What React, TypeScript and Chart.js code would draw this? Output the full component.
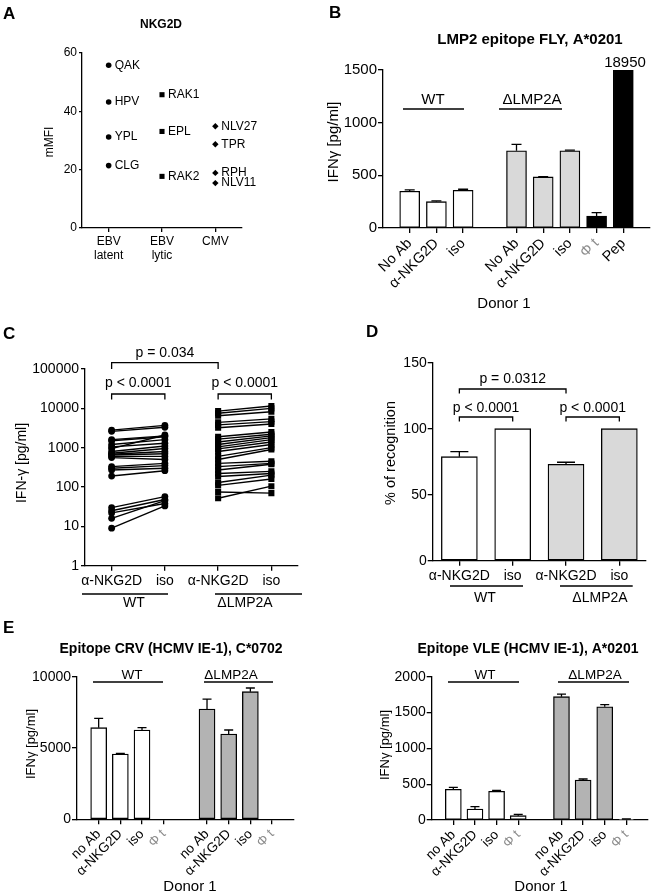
import React, { useEffect, useRef } from "react";
import { Chart, registerables } from "chart.js";
Chart.register(...registerables);

const FONT = "'Liberation Sans', Arial, Helvetica, sans-serif";

// ---------------- Panel A data ----------------
const A_CATEGORIES = ["EBV latent", "EBV lytic", "CMV"];
const A_LATENT_NAMES = ["QAK", "HPV", "YPL", "CLG"];
const A_LATENT_MFI = [55.8, 43.2, 31.2, 21.4];
const A_LYTIC_NAMES = ["RAK1", "EPL", "RAK2"];
const A_LYTIC_MFI = [45.7, 33.1, 17.7];
const A_CMV_NAMES = ["NLV27", "TPR", "RPH", "NLV11"];
const A_CMV_MFI = [34.9, 28.7, 18.9, 15.4];

// ---------------- Panel B data ----------------
const B_CATEGORIES = ["", "No Ab", "α-NKG2D", "iso", "", "No Ab", "α-NKG2D", "iso", "Φ t", "Pep", ""];
const B_GROUPS = ["", "WT", "WT", "WT", "", "ΔLMP2A", "ΔLMP2A", "ΔLMP2A", "ctrl", "ctrl", ""];
const B_IFNG = [null, 349, 250, 358, null, 733, 485, 733, 114, 18950, null];
const B_SEM = [null, 12, 7, 10, null, 60, 3, 6, 32, null, null];

// ---------------- Panel C data ----------------
const C_CATEGORIES = ["α-NKG2D", "iso", "α-NKG2D", "iso"];
const C_TICKS = [1, 10, 100, 1000, 10000, 100000];
const C_WT_NKG2D = [2800, 2600, 1600, 1500, 1200, 1050, 950, 800, 720, 680, 650, 600, 560, 330, 300, 270, 190, 30, 25, 22, 16, 9];
const C_WT_ISO = [3700, 3300, 2000, 1900, 1600, 1300, 2100, 1100, 950, 800, 700, 600, 500, 400, 350, 300, 260, 57, 48, 38, 45, 33];
const C_D_NKG2D = [8500, 7500, 6500, 4400, 3800, 3200, 1900, 1650, 1400, 1200, 1050, 930, 800, 600, 500, 400, 330, 270, 220, 185, 130, 110, 75, 52];
const C_D_ISO = [11500, 10000, 8200, 5400, 4600, 4000, 2500, 2200, 2000, 1800, 1600, 1400, 1200, 1000, 900, 450, 400, 380, 250, 220, 200, 160, 70, 105];

// ---------------- Panel D data ----------------
const D_CATEGORIES = ["α-NKG2D", "iso", "α-NKG2D", "iso"];
const D_GROUPS = ["WT", "WT", "ΔLMP2A", "ΔLMP2A"];
const D_RECOGNITION = [78.8, 100, 73, 100];
const D_SEM = [3.8, 0, 1.6, 0];

// ---------------- Panel E data ----------------
const E_CATEGORIES = ["", "no Ab", "α-NKG2D", "iso", "Φ t", "", "no Ab", "α-NKG2D", "iso", "Φ t", ""];
const E_GROUPS = ["", "WT", "WT", "WT", "WT", "", "ΔLMP2A", "ΔLMP2A", "ΔLMP2A", "ΔLMP2A", ""];
const E_CRV_IFNG = [null, 6425, 4580, 6262, 0, null, 7734, 5981, 8949, 0, null];
const E_CRV_SEM = [null, 655, 46, 163, 0, null, 700, 281, 257, 0, null];
const E_VLE_IFNG = [null, 428, 153, 400, 60, null, 1721, 558, 1581, 9, null];
const E_VLE_SEM = [null, 28, 33, 14, 19, null, 37, 14, 28, 5, null];

// ---------------- styles ----------------
const FILL_B: Record<string, string> = { WT: "#ffffff", "ΔLMP2A": "#d9d9d9", ctrl: "#000000", "": "#fff" };
const FILL_E: Record<string, string> = { WT: "#ffffff", "ΔLMP2A": "#b3b3b3", "": "#fff" };

type Box = { x: number; y: number; w: number; h: number };
type Area = { l: number; t: number; r: number; b: number };
type Txt = { s: string; x: number; y: number; size: number; bold?: boolean; rot?: boolean; color?: string; align?: CanvasTextAlign };
type Ln = [number, number, number, number];
type Br = { from: number; to: number; y: number; leg: number; label: string; ly: number; size: number };

const plain = (v: any) => String(v);

function frame(box: Box, area: Area) {
  return {
    padding: { left: 0, top: area.t - box.y, right: box.x + box.w - area.r, bottom: 0 },
    yFit: (s: any) => {
      s.width = area.l - box.x;
      s.paddingTop = 0;
      s.paddingBottom = 0;
    },
    xFit: (s: any) => {
      s.height = box.y + box.h - area.b;
      s.paddingLeft = 0;
      s.paddingRight = 0;
    },
  };
}

function overlay(box: Box, texts: Txt[], lines: Ln[]) {
  return {
    id: "overlay",
    afterDraw(chart: any) {
      const ctx = chart.ctx;
      ctx.save();
      ctx.strokeStyle = "#000";
      ctx.lineWidth = 1.3;
      for (const [x1, y1, x2, y2] of lines) {
        ctx.beginPath();
        ctx.moveTo(x1 - box.x, y1 - box.y);
        ctx.lineTo(x2 - box.x, y2 - box.y);
        ctx.stroke();
      }
      for (const t of texts) {
        ctx.save();
        ctx.font = `${t.bold ? "bold " : ""}${t.size}px ${FONT}`;
        ctx.fillStyle = t.color || "#000";
        ctx.textAlign = t.align || "center";
        ctx.textBaseline = "middle";
        ctx.translate(t.x - box.x, t.y - box.y);
        if (t.rot) ctx.rotate(-Math.PI / 2);
        ctx.fillText(t.s, 0, 0);
        ctx.restore();
      }
      ctx.restore();
    },
  };
}

function brackets(box: Box, list: Br[]) {
  return {
    id: "brackets",
    afterDraw(chart: any) {
      const ctx = chart.ctx;
      const xs = chart.scales.x;
      ctx.save();
      ctx.strokeStyle = "#000";
      ctx.lineWidth = 1.3;
      for (const b of list) {
        const x1 = xs.getPixelForValue(b.from);
        const x2 = xs.getPixelForValue(b.to);
        ctx.beginPath();
        ctx.moveTo(x1, b.leg - box.y);
        ctx.lineTo(x1, b.y - box.y);
        ctx.lineTo(x2, b.y - box.y);
        ctx.lineTo(x2, b.leg - box.y);
        ctx.stroke();
        ctx.font = `${b.size}px ${FONT}`;
        ctx.fillStyle = "#000";
        ctx.textAlign = "center";
        ctx.textBaseline = "middle";
        ctx.fillText(b.label, (x1 + x2) / 2, b.ly - box.y);
      }
      ctx.restore();
    },
  };
}

function errorBars(errs: (number | null)[], capW: number) {
  return {
    id: "errorBars",
    afterDatasetsDraw(chart: any) {
      const meta = chart.getDatasetMeta(0);
      const ys = chart.scales.y;
      const vals = chart.data.datasets[0].data;
      const ctx = chart.ctx;
      ctx.save();
      ctx.strokeStyle = "#000";
      ctx.lineWidth = 1.3;
      meta.data.forEach((el: any, i: number) => {
        const v = vals[i];
        const e = errs[i];
        if (v == null || !e) return;
        const y0 = ys.getPixelForValue(v);
        const y1 = ys.getPixelForValue(v + e);
        ctx.beginPath();
        ctx.moveTo(el.x, y0);
        ctx.lineTo(el.x, y1);
        ctx.moveTo(el.x - capW / 2, y1);
        ctx.lineTo(el.x + capW / 2, y1);
        ctx.stroke();
      });
      ctx.restore();
    },
  };
}

function pointLabels(names: string[][], size: number) {
  return {
    id: "pointLabels",
    afterDatasetsDraw(chart: any) {
      const ctx = chart.ctx;
      ctx.save();
      ctx.font = `${size}px ${FONT}`;
      ctx.fillStyle = "#000";
      ctx.textAlign = "left";
      ctx.textBaseline = "middle";
      chart.data.datasets.forEach((_: any, di: number) => {
        chart.getDatasetMeta(di).data.forEach((el: any, i: number) => {
          ctx.fillText(names[di][i], el.x + 6, el.y);
        });
      });
      ctx.restore();
    },
  };
}

function axis(size: number, tickLen: number, pad: number) {
  return {
    border: { display: true, color: "#000", width: 1.3 },
    grid: { display: true, drawOnChartArea: false, drawTicks: true, tickLength: tickLen, color: "#000", lineWidth: 1.3, offset: false },
    ticks: { color: "#000", font: { family: FONT, size }, padding: pad, autoSkip: false, maxRotation: 0, minRotation: 0 },
  };
}

function baseOptions(padding: any, scales: any) {
  return {
    responsive: false,
    maintainAspectRatio: false,
    animation: false,
    events: [],
    layout: { padding },
    plugins: { legend: { display: false }, tooltip: { enabled: false }, title: { display: false } },
    scales,
  };
}

// ---------------- configs ----------------
const boxA: Box = { x: 0, y: 0, w: 300, h: 290 };
const areaA: Area = { l: 82, t: 53, r: 242, b: 228 };
function makeA() {
  const f = frame(boxA, areaA);
  const xa = axis(12, 4, 2);
  const ya = axis(12, 3, 2);
  const pt = (vals: number[], cat: string, style: string, r: number) => ({
    data: vals.map((v) => ({ x: cat, y: v })),
    showLine: false,
    pointStyle: style,
    pointRadius: r,
    pointBackgroundColor: "#000",
    pointBorderColor: "#000",
    pointBorderWidth: 0,
  });
  return {
    type: "line",
    data: {
      labels: A_CATEGORIES,
      datasets: [
        pt(A_LATENT_MFI, A_CATEGORIES[0], "circle", 2.8),
        pt(A_LYTIC_MFI, A_CATEGORIES[1], "rect", 3.6),
        pt(A_CMV_MFI, A_CATEGORIES[2], "rectRot", 3.2),
      ],
    },
    options: baseOptions(f.padding, {
      x: {
        type: "category", offset: true, ...xa,
        ticks: { ...xa.ticks, callback: (_v: any, i: number) => A_CATEGORIES[i].split(" ") },
        afterFit: f.xFit,
      },
      y: { min: 0, max: 60, ...ya, ticks: { ...ya.ticks, stepSize: 20, callback: plain }, afterFit: f.yFit },
    }),
    plugins: [
      pointLabels([A_LATENT_NAMES, A_LYTIC_NAMES, A_CMV_NAMES], 12),
      overlay(boxA, [
        { s: "NKG2D", x: 161, y: 25, size: 12, bold: true },
        { s: "mMFI", x: 50, y: 142, size: 12, rot: true },
      ], []),
    ],
  };
}

const boxB: Box = { x: 300, y: 0, w: 354, h: 315 };
const areaB: Area = { l: 383, t: 70, r: 650, b: 228 };
function makeB() {
  const f = frame(boxB, areaB);
  const xa = axis(14.5, 5, 2);
  const ya = axis(15, 5, 1);
  return {
    type: "bar",
    data: {
      labels: B_CATEGORIES,
      datasets: [{
        data: B_IFNG,
        backgroundColor: B_GROUPS.map((g) => FILL_B[g]),
        borderColor: "#000",
        borderWidth: 1.3,
        borderSkipped: false,
        barThickness: 20,
        clip: { left: false, right: false, top: 0, bottom: false },
      }],
    },
    options: baseOptions(f.padding, {
      x: {
        type: "category", offset: false, ...xa,
        grid: { ...xa.grid, color: (c: any) => (B_CATEGORIES[c.index] ? "#000" : "rgba(0,0,0,0)") },
        ticks: { ...xa.ticks, maxRotation: 45, minRotation: 45, color: (c: any) => (c.tick && c.tick.label === "Φ t" ? "#8c8c8c" : "#000") },
        afterFit: f.xFit,
      },
      y: { min: 0, max: 1500, ...ya, ticks: { ...ya.ticks, stepSize: 500, callback: plain }, afterFit: f.yFit },
    }),
    plugins: [
      errorBars(B_SEM, 10),
      overlay(boxB, [
        { s: "LMP2 epitope FLY, A*0201", x: 530, y: 40, size: 15, bold: true },
        { s: "18950", x: 625, y: 63, size: 15 },
        { s: "IFNγ [pg/ml]", x: 334, y: 142, size: 15, rot: true },
        { s: "WT", x: 433, y: 100, size: 15 },
        { s: "ΔLMP2A", x: 532, y: 100, size: 15 },
        { s: "Donor 1", x: 504, y: 304, size: 15 },
      ], [
        [403, 109, 464, 109],
        [499, 109, 562, 109],
      ]),
    ],
  };
}

const boxC: Box = { x: 0, y: 340, w: 330, h: 285 };
const areaC: Area = { l: 85, t: 369, r: 298, b: 565.7 };
function makeC() {
  const f = frame(boxC, areaC);
  const xa = axis(14, 5, 2);
  const ya = axis(14, 4, 2);
  const wt = C_WT_NKG2D.map((v, i) => ({
    data: [v, C_WT_ISO[i], null, null],
    borderColor: "#000", borderWidth: 1.4, pointStyle: "circle", pointRadius: 3.4,
    pointBackgroundColor: "#000", pointBorderWidth: 0, spanGaps: false,
  }));
  const dl = C_D_NKG2D.map((v, i) => ({
    data: [null, null, v, C_D_ISO[i]],
    borderColor: "#000", borderWidth: 1.4, pointStyle: "rect", pointRadius: 4.3,
    pointBackgroundColor: "#000", pointBorderWidth: 0, spanGaps: false,
  }));
  return {
    type: "line",
    data: { labels: C_CATEGORIES, datasets: [...wt, ...dl] },
    options: baseOptions(f.padding, {
      x: { type: "category", offset: true, ...xa, afterFit: f.xFit },
      y: {
        type: "logarithmic", min: 1, max: 100000, ...ya,
        ticks: { ...ya.ticks, callback: plain },
        afterBuildTicks: (s: any) => { s.ticks = C_TICKS.map((v) => ({ value: v })); },
        afterFit: f.yFit,
      },
    }),
    plugins: [
      brackets(boxC, [
        { from: 0, to: 2, y: 362.7, leg: 369, label: "p = 0.034", ly: 353, size: 14 },
        { from: 0, to: 1, y: 394, leg: 399.5, label: "p < 0.0001", ly: 383, size: 14 },
        { from: 2, to: 3, y: 394, leg: 399.5, label: "p < 0.0001", ly: 383, size: 14 },
      ]),
      overlay(boxC, [
        { s: "IFN-γ [pg/ml]", x: 22, y: 463, size: 14, rot: true },
        { s: "WT", x: 134, y: 603, size: 14 },
        { s: "ΔLMP2A", x: 245, y: 603, size: 14 },
      ], [
        [82, 594, 168, 594],
        [215, 594, 302, 594],
      ]),
    ],
  };
}

const boxD: Box = { x: 330, y: 340, w: 324, h: 285 };
const areaD: Area = { l: 432.7, t: 362.7, r: 646, b: 560.7 };
function makeD() {
  const f = frame(boxD, areaD);
  const xa = axis(14, 5, 2);
  const ya = axis(14, 5, 1);
  return {
    type: "bar",
    data: {
      labels: D_CATEGORIES,
      datasets: [{
        data: D_RECOGNITION,
        backgroundColor: D_GROUPS.map((g) => FILL_B[g]),
        borderColor: "#000",
        borderWidth: 1.3,
        borderSkipped: false,
        barThickness: 36,
      }],
    },
    options: baseOptions(f.padding, {
      x: { type: "category", offset: true, ...xa, afterFit: f.xFit },
      y: { min: 0, max: 150, ...ya, ticks: { ...ya.ticks, stepSize: 50, callback: plain }, afterFit: f.yFit },
    }),
    plugins: [
      errorBars(D_SEM, 18),
      brackets(boxD, [
        { from: 0, to: 2, y: 389, leg: 393.5, label: "p = 0.0312", ly: 379, size: 14 },
        { from: 0, to: 1, y: 417, leg: 421.5, label: "p < 0.0001", ly: 407.7, size: 14 },
        { from: 2, to: 3, y: 417, leg: 421.5, label: "p < 0.0001", ly: 407.7, size: 14 },
      ]),
      overlay(boxD, [
        { s: "% of recognition", x: 391, y: 453, size: 14.5, rot: true },
        { s: "WT", x: 485, y: 598, size: 14 },
        { s: "ΔLMP2A", x: 600, y: 598, size: 14 },
      ], [
        [450, 586, 523, 586],
        [560, 586, 632.7, 586],
      ]),
    ],
  };
}

function makeE(box: Box, area: Area, vals: (number | null)[], errs: (number | null)[], max: number, step: number, texts: Txt[], lines: Ln[]) {
  const f = frame(box, area);
  const xa = axis(13.5, 5, 2);
  const ya = axis(14, 5, 1);
  return {
    type: "bar",
    data: {
      labels: E_CATEGORIES,
      datasets: [{
        data: vals,
        backgroundColor: E_GROUPS.map((g) => FILL_E[g]),
        borderColor: "#000",
        borderWidth: 1.3,
        borderSkipped: false,
        barThickness: 16,
      }],
    },
    options: baseOptions(f.padding, {
      x: {
        type: "category", offset: false, ...xa,
        grid: { ...xa.grid, color: (c: any) => (E_CATEGORIES[c.index] ? "#000" : "rgba(0,0,0,0)") },
        ticks: { ...xa.ticks, maxRotation: 45, minRotation: 45, color: (c: any) => (c.tick && c.tick.label === "Φ t" ? "#8c8c8c" : "#000") },
        afterFit: f.xFit,
      },
      y: { min: 0, max, ...ya, ticks: { ...ya.ticks, stepSize: step, callback: plain }, afterFit: f.yFit },
    }),
    plugins: [errorBars(errs, 9), overlay(box, texts, lines)],
  };
}

const boxE1: Box = { x: 0, y: 638, w: 330, h: 257 };
const areaE1: Area = { l: 77, t: 676.7, r: 293.7, b: 819.3 };
const boxE2: Box = { x: 330, y: 638, w: 324, h: 257 };
const areaE2: Area = { l: 431.7, t: 676.7, r: 648, b: 820 };

function makeE1() {
  return makeE(boxE1, areaE1, E_CRV_IFNG, E_CRV_SEM, 10000, 5000, [
    { s: "Epitope CRV (HCMV IE-1), C*0702", x: 171, y: 649, size: 14, bold: true },
    { s: "IFNγ [pg/ml]", x: 31, y: 744, size: 13, rot: true },
    { s: "WT", x: 132, y: 675, size: 13.5 },
    { s: "ΔLMP2A", x: 231, y: 675, size: 13.5 },
    { s: "Donor 1", x: 190, y: 887, size: 15 },
  ], [
    [93, 682, 163, 682],
    [204, 682, 273, 682],
  ]);
}
function makeE2() {
  return makeE(boxE2, areaE2, E_VLE_IFNG, E_VLE_SEM, 2000, 500, [
    { s: "Epitope VLE (HCMV IE-1), A*0201", x: 528, y: 649, size: 14, bold: true },
    { s: "IFNγ [pg/ml]", x: 385, y: 745, size: 13, rot: true },
    { s: "WT", x: 485, y: 675, size: 13.5 },
    { s: "ΔLMP2A", x: 595, y: 675, size: 13.5 },
    { s: "Donor 1", x: 541, y: 887, size: 15 },
  ], [
    [448, 682, 519, 682],
    [558, 682, 629, 682],
  ]);
}

function ChartBox({ box, make }: { box: Box; make: () => any }) {
  const ref = useRef<HTMLCanvasElement>(null);
  useEffect(() => {
    const chart = new Chart(ref.current as HTMLCanvasElement, make());
    return () => chart.destroy();
  }, []);
  return (
    <canvas
      ref={ref}
      width={box.w}
      height={box.h}
      style={{ position: "absolute", left: box.x, top: box.y, width: box.w, height: box.h }}
    />
  );
}

const letterStyle = (x: number, y: number): React.CSSProperties => ({
  position: "absolute",
  left: x,
  top: y,
  font: `bold 17px ${FONT}`,
  lineHeight: "17px",
  color: "#000",
});

export default function App() {
  return (
    <div style={{ position: "absolute", left: 0, top: 0, width: 654, height: 895, overflow: "hidden", background: "#fff" }}>
      <ChartBox box={boxA} make={makeA} />
      <ChartBox box={boxB} make={makeB} />
      <ChartBox box={boxC} make={makeC} />
      <ChartBox box={boxD} make={makeD} />
      <ChartBox box={boxE1} make={makeE1} />
      <ChartBox box={boxE2} make={makeE2} />
      <div style={letterStyle(3, 5)}>A</div>
      <div style={letterStyle(329, 4)}>B</div>
      <div style={letterStyle(3, 325)}>C</div>
      <div style={letterStyle(366, 323)}>D</div>
      <div style={letterStyle(3, 619)}>E</div>
    </div>
  );
}
